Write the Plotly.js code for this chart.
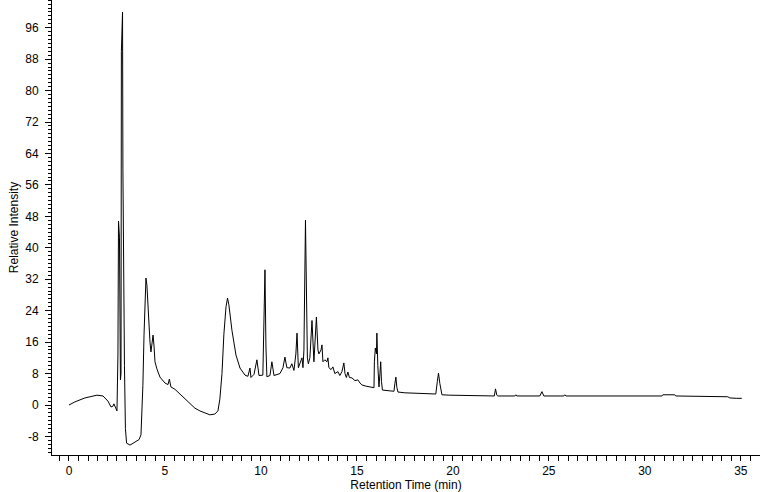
<!DOCTYPE html>
<html>
<head>
<meta charset="utf-8">
<script src="https://cdn.plot.ly/plotly-3.0.1.min.js"></script>
<style>html,body{margin:0;padding:0;background:#fff;}#chart{width:760px;height:492px;}</style>
</head>
<body>
<div id="chart"></div>
<script>
// Retention time (min)
const retentionTime = [
  0.00, 0.31, 0.83, 1.46, 1.77, 2.03, 2.19, 2.29, 2.34, 2.40, 2.50,
  2.55, 2.58, 2.63, 2.66, 2.68, 2.71, 2.73, 2.79, 2.81, 2.84, 2.89, 2.94, 3.00,
  3.18, 3.44, 3.65, 3.75, 3.80, 3.85, 3.91, 3.96, 4.01, 4.06, 4.11, 4.17, 4.22,
  4.27, 4.32, 4.38, 4.43, 4.48, 4.58, 4.74, 5.00, 5.16, 5.23, 5.31, 5.52, 5.78,
  6.04, 6.30, 6.56, 6.82, 7.08, 7.34, 7.60, 7.76, 7.86, 7.97, 8.07, 8.18, 8.26,
  8.33, 8.49, 8.70, 8.91, 9.17, 9.32, 9.43, 9.48, 9.64, 9.79, 9.90, 10.10, 10.16,
  10.21, 10.26, 10.31, 10.47, 10.57, 10.68, 10.99, 11.15, 11.25, 11.35, 11.51,
  11.61, 11.72, 11.82, 11.88, 11.95, 12.03, 12.14, 12.19, 12.24, 12.32, 12.37,
  12.42, 12.47, 12.55, 12.66, 12.71, 12.76, 12.89, 12.97, 13.02, 13.13, 13.18,
  13.23, 13.33, 13.44, 13.49, 13.54, 13.65, 13.75, 13.85, 14.01, 14.11, 14.22,
  14.32, 14.38, 14.45, 14.53, 14.61, 14.74, 14.90, 15.05, 15.16, 15.26, 15.47,
  15.68, 15.89, 15.91, 15.96, 16.02, 16.04, 16.09, 16.15, 16.20, 16.24, 16.28,
  16.33, 16.72, 16.93, 16.98, 17.03, 17.08, 17.14, 17.50, 18.54, 19.11, 19.19,
  19.25, 19.32, 19.43, 19.84, 21.67, 22.16, 22.22, 22.29, 22.34, 23.23, 23.28,
  23.33, 24.53, 24.64, 24.74, 25.78, 25.83, 25.89, 30.89, 30.94, 31.56, 31.61,
  34.32, 34.43, 34.79, 35.05
];
// Relative intensity
const relativeIntensity = [
  0.0, 0.8, 1.8, 2.5, 2.3, 1.0, -0.5, -0.3, 0.3, -0.6, -1.5,
  12.7, 46.8, 42.7, 20, 6.4, 8, 90, 100, 60, 35, 10, -6, -9.7,
  -10.2, -9.5, -8.8, -7.6, -3, 5, 18, 28, 32.3, 30.5, 26, 18.6, 16,
  13.5, 16.5, 17.8, 15, 11, 9.2, 7.1, 5.6, 5.2, 6.6, 4.6, 4.0, 2.8,
  1.5, 0.2, -0.8, -1.5, -2.1, -2.5, -2.3, -1.5, 1.5, 8, 18, 25, 27.2,
  25.5, 19, 12.7, 9.4, 7.6, 7.3, 9.4, 7.0, 7.8, 11.5, 7.5, 7.6, 20,
  34.4, 15, 7.2, 7.5, 11, 7.5, 8, 9.5, 12.2, 9.5, 9.4,
  10.5, 8.8, 13, 18.3, 9.5, 10.7, 12, 9.5, 14, 47, 30,
  12, 10.5, 12, 21.5, 14, 11, 22.4, 14, 13, 14, 15.3,
  11, 11.5, 11, 12, 9.5, 9, 9.7, 8, 8.5, 7.5, 8.5,
  10.7, 8, 7, 8.4, 7, 6.9, 6.2, 6.4, 5.6, 5.1, 4.8,
  4.6, 4.4, 11, 14.5, 13, 18.3, 10, 4.6, 8, 11, 6,
  3.8, 3.6, 3.5, 5.5, 7.1, 4.5, 3.3, 3.1, 2.8, 2.8, 6,
  8.1, 5.5, 2.6, 2.5, 2.3, 2.3, 4.1, 2.5, 2.3, 2.3, 2.6,
  2.3, 2.3, 3.4, 2.3, 2.3, 2.6, 2.3, 2.3, 2.6, 2.6, 2.3,
  2.1, 1.8, 1.7, 1.7
];
const xTickVals = [0, 5, 10, 15, 20, 25, 30, 35];
const yTickVals = [-8, 0, 8, 16, 24, 32, 40, 48, 56, 64, 72, 80, 88, 96];

const font = {family: 'Liberation Sans, Arial, sans-serif', size: 12, color: '#000'};

Plotly.newPlot('chart', [{
  x: retentionTime,
  y: relativeIntensity,
  type: 'scatter',
  mode: 'lines',
  line: {color: '#000', width: 1},
  hoverinfo: 'skip'
}], {
  width: 760, height: 492,
  margin: {l: 52, r: 0, t: 0, b: 37},
  paper_bgcolor: '#fff', plot_bgcolor: '#fff',
  showlegend: false,
  font: font,
  xaxis: {
    range: [-0.885, 36],
    tickmode: 'array', tickvals: xTickVals, ticktext: xTickVals.map(String),
    ticks: 'outside', ticklen: 5, tickcolor: '#000', tickwidth: 1,
    minor: {dtick: 0.5, ticks: 'outside', ticklen: 5, tickcolor: '#000', showgrid: false},
    showgrid: false, zeroline: false,
    showline: true, linecolor: '#000', linewidth: 1,
    tickfont: font,
    title: {text: 'Retention Time (min)', font: font, standoff: 4}
  },
  yaxis: {
    range: [-12.72, 103.05],
    tickmode: 'array', tickvals: yTickVals, ticktext: yTickVals.map(String),
    ticks: 'outside', ticklen: 6, tickcolor: '#000', tickwidth: 1,
    ticklabelstandoff: 4,
    minor: {dtick: 1, tick0: 0, ticks: 'outside', ticklen: 3, tickcolor: '#000', showgrid: false},
    showgrid: false, zeroline: false,
    showline: true, linecolor: '#000', linewidth: 1,
    tickfont: font,
    title: {text: 'Relative Intensity', font: font, standoff: 4}
  }
}, {staticPlot: true, displayModeBar: false});
</script>
</body>
</html>
